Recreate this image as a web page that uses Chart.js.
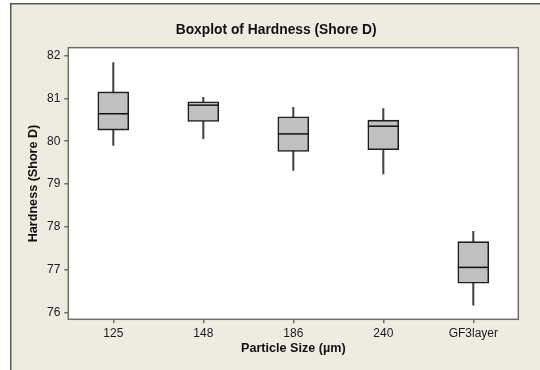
<!DOCTYPE html>
<html>
<head>
<meta charset="utf-8">
<script src="https://cdn.jsdelivr.net/npm/chart.js@4"></script>
<style>
  html, body { margin: 0; padding: 0; background: #ffffff; }
  #wrap { width: 540px; height: 370px; }
</style>
</head>
<body>
<div id="wrap"><canvas id="chart" width="540" height="370"></canvas></div>
<script>
// boxplot data
const categories = ["125", "148", "186", "240", "GF3layer"];
const whiskerLow = [79.90, 80.06, 79.32, 79.24, 76.18];
const q1 = [80.26, 80.46, 79.76, 79.80, 76.69];
const median = [80.64, 80.84, 80.17, 80.35, 77.06];
const q3 = [81.15, 80.92, 80.57, 80.49, 77.66];
const whiskerHigh = [81.83, 81.02, 80.79, 80.76, 77.90];
const yTicks = [76, 77, 78, 79, 80, 81, 82];

const FONT = "'Liberation Sans', Arial, sans-serif";

const boxes = categories.map((_, i) => [q1[i], q3[i]]);
const whiskers = categories.map((_, i) => [whiskerLow[i], whiskerHigh[i]]);

// page frame + white plot background
const backgroundPlugin = {
  id: "background",
  beforeDraw(chart) {
    const { ctx, chartArea } = chart;
    ctx.save();
    ctx.fillStyle = "#ffffff";
    ctx.fillRect(0, 0, chart.width, chart.height);
    ctx.fillStyle = "#eeebe1";
    ctx.fillRect(10, 3, chart.width - 10, chart.height - 3);
    ctx.strokeStyle = "#5a5a5a";
    ctx.lineWidth = 1.5;
    ctx.beginPath();
    ctx.moveTo(10.75, chart.height);
    ctx.lineTo(10.75, 3.75);
    ctx.lineTo(chart.width, 3.75);
    ctx.stroke();
    ctx.fillStyle = "#ffffff";
    ctx.fillRect(chartArea.left, chartArea.top,
      chartArea.right - chartArea.left, chartArea.bottom - chartArea.top);
    ctx.restore();
  },
};

// median lines and plot frame
const medianPlugin = {
  id: "medians",
  afterDatasetsDraw(chart) {
    const { ctx, scales } = chart;
    const meta = chart.getDatasetMeta(0);
    ctx.save();
    ctx.strokeStyle = "#111111";
    ctx.lineWidth = 1.5;
    meta.data.forEach((bar, i) => {
      const x = scales.x.getPixelForValue(i);
      const y = scales.y.getPixelForValue(median[i]);
      const half = bar.width / 2;
      ctx.beginPath();
      ctx.moveTo(x - half, y);
      ctx.lineTo(x + half, y);
      ctx.stroke();
    });
    ctx.restore();
  },
  afterDraw(chart) {
    const { ctx, chartArea } = chart;
    ctx.save();
    ctx.strokeStyle = "#6e6e6e";
    ctx.lineWidth = 1.5;
    ctx.strokeRect(chartArea.left, chartArea.top,
      chartArea.right - chartArea.left, chartArea.bottom - chartArea.top);
    ctx.restore();
  },
};

new Chart(document.getElementById("chart"), {
  type: "bar",
  data: {
    labels: categories,
    datasets: [
      {
        label: "Box",
        data: boxes,
        backgroundColor: "#c0c0c0",
        borderColor: "#1e1e1e",
        borderWidth: 1.6,
        borderSkipped: false,
        barThickness: 31,
        grouped: false,
        order: 0,
      },
      {
        label: "Whisker",
        data: whiskers,
        backgroundColor: "#444444",
        borderWidth: 0,
        barThickness: 1.4,
        grouped: false,
        order: 1,
      },
    ],
  },
  options: {
    responsive: false,
    animation: false,
    layout: {
      padding: { left: 34, right: 21.7, top: 0, bottom: 0 },
    },
    plugins: {
      legend: { display: false },
      tooltip: { enabled: false },
      title: {
        display: true,
        text: "Boxplot of Hardness (Shore D)",
        color: "#111111",
        font: { family: FONT, size: 13.8, weight: "bold" },
        padding: { top: 21.7, bottom: 9.4 },
      },
    },
    scales: {
      x: {
        offset: true,
        grid: {
          offset: false,
          drawOnChartArea: false,
          drawTicks: true,
          tickLength: 4,
          color: "#6e6e6e",
          lineWidth: 1.5,
        },
        border: { display: false },
        ticks: {
          color: "#1a1a1a",
          font: { family: FONT, size: 12 },
          padding: 3,
          maxRotation: 0,
          autoSkip: false,
        },
        title: {
          display: true,
          text: "Particle Size (µm)",
          color: "#111111",
          font: { family: FONT, size: 12.6, weight: "bold" },
          padding: { top: 0, bottom: 13.5 },
        },
        afterFit(scale) {
          scale.height = 50.7;
        },
      },
      y: {
        min: 75.85,
        max: 82.18,
        grid: {
          drawOnChartArea: false,
          drawTicks: true,
          tickLength: 4,
          color: "#6e6e6e",
          lineWidth: 1.5,
        },
        border: { display: false },
        ticks: {
          stepSize: 1,
          includeBounds: false,
          color: "#1a1a1a",
          font: { family: FONT, size: 12 },
          padding: 4,
        },
        afterBuildTicks(scale) {
          scale.ticks = yTicks.map((v) => ({ value: v }));
        },
        title: {
          display: true,
          text: "Hardness (Shore D)",
          color: "#111111",
          font: { family: FONT, size: 12.6, weight: "bold" },
          padding: { top: -8.2, bottom: 0 },
        },
        afterFit(scale) {
          scale.width = 34.3;
        },
      },
    },
  },
  plugins: [backgroundPlugin, medianPlugin],
});
</script>
</body>
</html>
